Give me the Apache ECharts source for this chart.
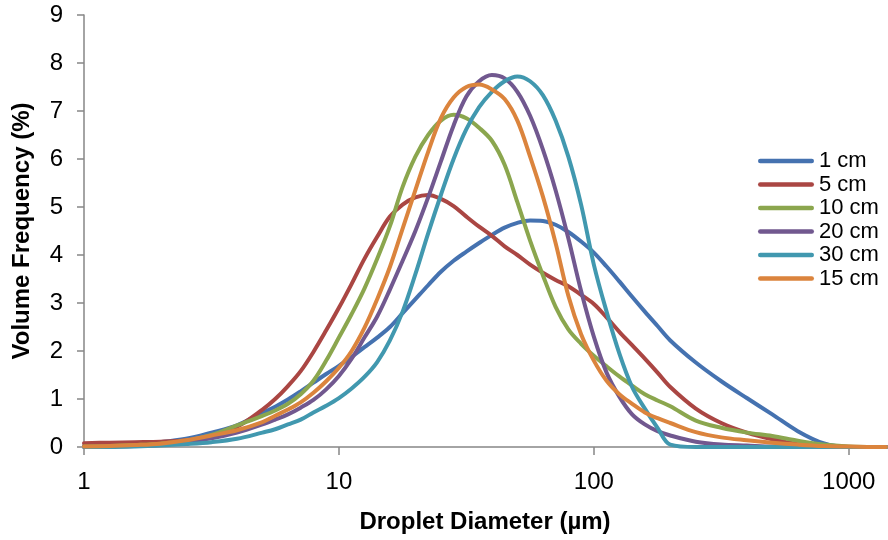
<!DOCTYPE html>
<html>
<head>
<meta charset="utf-8">
<script src="https://cdn.jsdelivr.net/npm/echarts@6/dist/echarts.min.js"></script>
<style>
html,body{margin:0;padding:0;background:#fff;}
#chart{width:888px;height:540px;}
</style>
</head>
<body>
<div id="chart"></div>
<script>
// Droplet diameters (µm)
const diameters = [1, 1.259, 1.585, 1.995, 2.512, 3.162, 3.981,
  5.012, 5.623, 6.310, 7.079, 7.943, 8.913,
  10, 11.22, 12.59, 14.13, 15.85, 17.78, 19.95, 22.39, 25.12, 28.18,
  31.62, 35.48, 39.81, 44.67, 50.12, 56.23, 63.10, 70.79, 79.43, 89.13,
  100, 112.2, 125.9, 141.3, 158.5, 177.8, 199.5,
  251.2, 316.2, 398.1, 501.2, 631.0, 794.3, 1000, 1259, 1400];

const seriesNames = ['1 cm', '5 cm', '10 cm', '20 cm', '30 cm', '15 cm'];

const v1cm = [0.02, 0.04, 0.06, 0.10, 0.17, 0.30, 0.45,
  0.71, 0.84, 0.99, 1.16, 1.34, 1.52,
  1.69, 1.88, 2.08, 2.28, 2.50, 2.79, 3.08, 3.37, 3.65, 3.88,
  4.07, 4.25, 4.42, 4.57, 4.67, 4.72, 4.71, 4.63, 4.48, 4.28,
  4.05, 3.76, 3.45, 3.13, 2.82, 2.52, 2.22,
  1.76, 1.37, 1.02, 0.68, 0.33, 0.08, 0, 0, 0];
const v5cm = [0.08, 0.09, 0.10, 0.11, 0.14, 0.22, 0.42,
  0.78, 1.00, 1.27, 1.58, 1.98, 2.43,
  2.90, 3.40, 3.92, 4.38, 4.80, 5.05, 5.20, 5.25, 5.17, 5.02,
  4.80, 4.59, 4.40, 4.18, 4.00, 3.80, 3.63, 3.48, 3.35, 3.17,
  2.98, 2.70, 2.40, 2.12, 1.84, 1.55, 1.25,
  0.80, 0.50, 0.30, 0.16, 0.06, 0.02, 0, 0, 0];
const v10cm = [0.01, 0.02, 0.04, 0.07, 0.13, 0.25, 0.45,
  0.65, 0.76, 0.90, 1.10, 1.38, 1.80,
  2.28, 2.77, 3.30, 3.92, 4.60, 5.42, 6.05, 6.50, 6.80, 6.92,
  6.85, 6.65, 6.38, 5.88, 5.10, 4.30, 3.58, 2.92, 2.45, 2.15,
  1.90, 1.68, 1.47, 1.28, 1.10, 0.97, 0.85,
  0.55, 0.40, 0.30, 0.23, 0.13, 0.05, 0.01, 0, 0];
const v20cm = [0, 0.01, 0.02, 0.04, 0.10, 0.18, 0.30,
  0.47, 0.57, 0.68, 0.82, 0.98, 1.20,
  1.48, 1.84, 2.28, 2.72, 3.28, 3.88, 4.50, 5.20, 5.95, 6.70,
  7.30, 7.62, 7.75, 7.68, 7.40, 6.90, 6.20, 5.35, 4.35, 3.25,
  2.30, 1.55, 1.05, 0.68, 0.47, 0.33, 0.24,
  0.11, 0.05, 0.03, 0.01, 0, 0, 0, 0, 0];
const v30cm = [0, 0, 0.01, 0.03, 0.06, 0.10, 0.17,
  0.30, 0.37, 0.47, 0.57, 0.72, 0.86,
  1.02, 1.22, 1.46, 1.77, 2.22, 2.82, 3.60, 4.45, 5.25, 6.00,
  6.62, 7.08, 7.40, 7.62, 7.72, 7.62, 7.33, 6.80, 6.05, 5.05,
  3.80, 2.82, 1.95, 1.25, 0.80, 0.40, 0.05,
  0, 0, 0, 0, 0, 0, 0, 0, 0];
const v15cm = [0.01, 0.02, 0.04, 0.07, 0.14, 0.24, 0.35,
  0.52, 0.65, 0.78, 0.93, 1.13, 1.37,
  1.65, 2.00, 2.48, 3.08, 3.75, 4.55, 5.35, 6.15, 6.85, 7.28,
  7.50, 7.55, 7.45, 7.25, 6.80, 6.05, 5.22, 4.25, 3.15, 2.35,
  1.80, 1.38, 1.10, 0.90, 0.72, 0.60, 0.50,
  0.31, 0.20, 0.14, 0.09, 0.05, 0.02, 0.01, 0, 0];

const yTicks = [0, 1, 2, 3, 4, 5, 6, 7, 8, 9];
const xTickLabels = ['1', '10', '100', '1000'];

const colors = ['#4572B0', '#AA4643', '#8BA64E', '#71588F', '#4198AF', '#DB843D'];
const allValues = [v1cm, v5cm, v10cm, v20cm, v30cm, v15cm];

const FONT = 'Liberation Sans, Arial, sans-serif';
const PILL = 'path://M2.25,0 L53.75,0 A2.25,2.25 0 0 1 53.75,4.5 L2.25,4.5 A2.25,2.25 0 0 1 2.25,0 Z';

const chart = echarts.init(document.getElementById('chart'), null, {renderer: 'canvas'});

const series = seriesNames.map((name, i) => ({
  name: name,
  type: 'line',
  data: diameters.map((d, j) => [d, allValues[i][j]]),
  smooth: 0.35,
  showSymbol: false,
  symbol: 'none',
  lineStyle: {width: 4, color: colors[i], cap: 'round', join: 'round'},
  itemStyle: {color: colors[i]},
  animation: false
}));

chart.setOption({
  backgroundColor: '#ffffff',
  animation: false,
  color: colors,
  grid: {left: 84, right: 2, top: 15, bottom: 93, containLabel: false},
  legend: {
    orient: 'vertical',
    left: 758,
    top: 150,
    padding: 0,
    itemWidth: 56,
    itemHeight: 4.5,
    itemGap: 1.5,
    icon: PILL,
    data: seriesNames,
    textStyle: {fontFamily: FONT, fontSize: 22, color: '#000', lineHeight: 22}
  },
  xAxis: {
    type: 'log',
    logBase: 10,
    min: 1,
    max: 1400,
    name: 'Droplet Diameter (µm)',
    nameLocation: 'middle',
    nameGap: 63,
    nameTextStyle: {fontFamily: FONT, fontSize: 24, fontWeight: 'bold', color: '#000'},
    axisLine: {show: true, lineStyle: {color: '#868686', width: 1.5}},
    axisTick: {show: true, inside: false, length: 8, lineStyle: {color: '#868686', width: 1.5}},
    minorTick: {show: false},
    splitLine: {show: false},
    axisLabel: {
      showMaxLabel: false,
      margin: 23,
      fontFamily: FONT, fontSize: 24, color: '#000',
      formatter: function (v) {
        const s = String(Math.round(v));
        return xTickLabels.indexOf(s) >= 0 ? s : '';
      }
    }
  },
  yAxis: {
    type: 'value',
    min: yTicks[0],
    max: yTicks[yTicks.length - 1],
    interval: 1,
    name: 'Volume Frequency (%)',
    nameLocation: 'middle',
    nameGap: 50,
    nameTextStyle: {fontFamily: FONT, fontSize: 24, fontWeight: 'bold', color: '#000'},
    axisLine: {show: true, lineStyle: {color: '#868686', width: 1.5}},
    axisTick: {show: true, inside: false, length: 7, lineStyle: {color: '#868686', width: 1.5}},
    splitLine: {show: false},
    axisLabel: {margin: 21, fontFamily: FONT, fontSize: 24, color: '#000'}
  },
  series: series
});
</script>
</body>
</html>
